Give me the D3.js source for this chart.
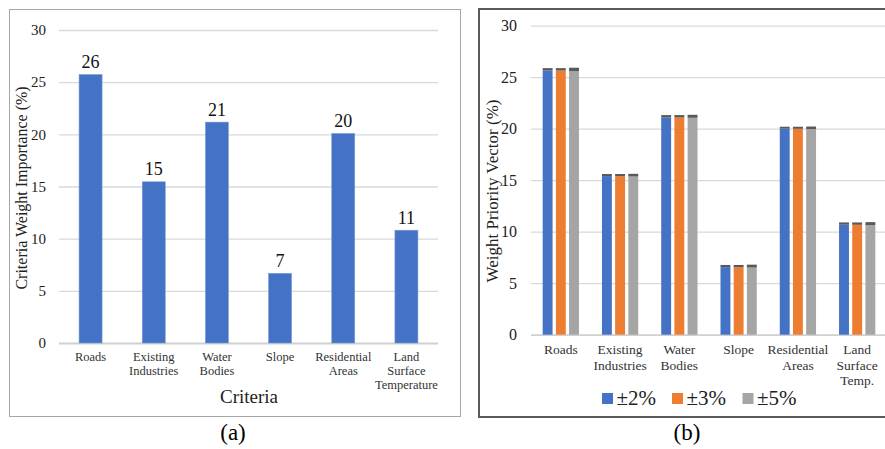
<!DOCTYPE html>
<html>
<head>
<meta charset="utf-8">
<script src="https://cdn.jsdelivr.net/npm/d3@7"></script>
<style>
  html, body { margin: 0; padding: 0; background: #fff; }
  svg text { font-family: "Liberation Serif", "Tinos", "Times New Roman", "DejaVu Serif", serif !important; }
</style>
</head>
<body>
<svg id="chart" width="885" height="449"></svg>
<script>
// Panel (a): criteria weights
const criteriaA = [["Roads"], ["Existing", "Industries"], ["Water", "Bodies"], ["Slope"], ["Residential", "Areas"], ["Land", "Surface", "Temperature"]];
const weightsA = [25.73, 15.45, 21.17, 6.68, 20.08, 10.81];

// Panel (b): sensitivity of priority vector
const criteriaB = [["Roads"], ["Existing", "Industries"], ["Water", "Bodies"], ["Slope"], ["Residential", "Areas"], ["Land", "Surface", "Temp."]];
const seriesNames = ["±2%", "±3%", "±5%"];
const seriesColors = ["#4472C4", "#ED7D31", "#A5A5A5"];
const low2 = [25.66, 15.40, 21.10, 6.56, 20.00, 10.68];
const high2 = [25.88, 15.60, 21.32, 6.77, 20.19, 10.90];
const low3 = [25.65, 15.39, 21.09, 6.55, 19.99, 10.67];
const high3 = [25.88, 15.60, 21.32, 6.77, 20.19, 10.90];
const low5 = [25.60, 15.36, 21.06, 6.52, 19.97, 10.64];
const high5 = [25.92, 15.62, 21.35, 6.80, 20.21, 10.93];
const yTicks = [0, 5, 10, 15, 20, 25, 30];

const svg = d3.select("#chart");

// ---------- Panel (a) ----------
svg.append("rect").attr("x", 9.5).attr("y", 9.5).attr("width", 451).attr("height", 407)
  .attr("fill", "none").attr("stroke", "#a6a6a6").attr("stroke-width", 1);

const xA = d3.scaleBand().domain(d3.range(weightsA.length)).range([59, 438])
  .paddingInner(0.636).paddingOuter(0.318);
const yA = d3.scaleLinear().domain([0, 30]).range([343, 30]);

const gA = svg.append("g");
const axA = gA.append("g").attr("transform", "translate(59,0)")
  .call(d3.axisLeft(yA).tickValues(yTicks).tickSize(-379).tickPadding(13));
axA.select(".domain").remove();
axA.selectAll(".tick line").attr("stroke", "#d9d9d9").attr("stroke-width", 1.3);
axA.selectAll(".tick text").attr("font-size", 15).attr("fill", "#222");
axA.selectAll(".tick").filter(d => d === 0).select("line").attr("stroke", "#d0d0d0").attr("stroke-width", 1.8);

gA.selectAll("rect.bar").data(weightsA).join("rect").attr("class", "bar")
  .attr("x", (d, i) => xA(i)).attr("width", xA.bandwidth())
  .attr("y", d => yA(d)).attr("height", d => yA(0) - yA(d))
  .attr("fill", "#4472C4").attr("stroke", "#7a9bd6").attr("stroke-width", 0.6);

const fmt0 = d3.format(".0f");
gA.selectAll("text.val").data(weightsA).join("text").attr("class", "val")
  .attr("x", (d, i) => xA(i) + xA.bandwidth() / 2).attr("y", d => yA(d) - 6.5)
  .attr("text-anchor", "middle").attr("font-size", 18).attr("fill", "#111")
  .text(d => fmt0(d));

gA.selectAll("text.cat").data(criteriaA).join("text").attr("class", "cat")
  .attr("x", (d, i) => xA(i) + xA.bandwidth() / 2).attr("y", 361)
  .attr("text-anchor", "middle").attr("font-size", 12.5).attr("fill", "#333")
  .each(function (lines) {
    d3.select(this).selectAll("tspan").data(lines).join("tspan")
      .attr("x", d3.select(this).attr("x")).attr("dy", (l, j) => j === 0 ? 0 : 13.8).text(l => l);
  });

gA.append("text").attr("x", 249).attr("y", 403).attr("text-anchor", "middle")
  .attr("font-size", 19).attr("fill", "#222").text("Criteria");
gA.append("text").attr("transform", "translate(27,188) rotate(-90)").attr("text-anchor", "middle")
  .attr("font-size", 16).attr("fill", "#222").text("Criteria Weight Importance (%)");
svg.append("text").attr("x", 233).attr("y", 440).attr("text-anchor", "middle")
  .attr("font-size", 23).attr("fill", "#000").text("(a)");

// ---------- Panel (b) ----------
svg.append("rect").attr("x", 479).attr("y", 9).attr("width", 420).attr("height", 408)
  .attr("fill", "none").attr("stroke", "#5a5a5a").attr("stroke-width", 2);

const xB = d3.scaleBand().domain(d3.range(criteriaB.length)).range([531, 887])
  .paddingInner(0.388).paddingOuter(0.197);
const xS = d3.scaleBand().domain(d3.range(seriesNames.length)).range([0, xB.bandwidth()])
  .paddingInner(0.25);
const yB = d3.scaleLinear().domain([0, 30]).range([334.7, 25.7]);

const gB = svg.append("g");
const axB = gB.append("g").attr("transform", "translate(531,0)")
  .call(d3.axisLeft(yB).tickValues(yTicks).tickSize(-360).tickPadding(14));
axB.select(".domain").remove();
axB.selectAll(".tick line").attr("stroke", "#d9d9d9").attr("stroke-width", 1.3);
axB.selectAll(".tick text").attr("font-size", 16).attr("fill", "#222");
axB.selectAll(".tick").filter(d => d === 0).select("line").attr("stroke", "#d0d0d0").attr("stroke-width", 1.8);

const lows = [low2, low3, low5];
const highs = [high2, high3, high5];
const cells = [];
criteriaB.forEach((c, i) => seriesNames.forEach((s, k) => cells.push({ i, k, lo: lows[k][i], hi: highs[k][i] })));

gB.selectAll("rect.bar").data(cells).join("rect").attr("class", "bar")
  .attr("x", d => xB(d.i) + xS(d.k)).attr("width", xS.bandwidth())
  .attr("y", d => yB(d.lo)).attr("height", d => yB(0) - yB(d.lo))
  .attr("fill", d => seriesColors[d.k]);

// darker caps spanning the sensitivity range
gB.selectAll("rect.cap").data(cells).join("rect").attr("class", "cap")
  .attr("x", d => xB(d.i) + xS(d.k)).attr("width", xS.bandwidth())
  .attr("y", d => yB(d.hi)).attr("height", d => yB(d.lo) - yB(d.hi))
  .attr("fill", "#595959");

gB.selectAll("text.cat").data(criteriaB).join("text").attr("class", "cat")
  .attr("x", (d, i) => xB(i) + xB.bandwidth() / 2).attr("y", 354)
  .attr("text-anchor", "middle").attr("font-size", 13.5).attr("fill", "#333")
  .each(function (lines) {
    d3.select(this).selectAll("tspan").data(lines).join("tspan")
      .attr("x", d3.select(this).attr("x")).attr("dy", (l, j) => j === 0 ? 0 : 15.5).text(l => l);
  });

gB.append("text").attr("transform", "translate(498,191) rotate(-90)").attr("text-anchor", "middle")
  .attr("font-size", 17).attr("fill", "#222").text("Weight Priority Vector (%)");

// legend
const legendX = d3.scaleOrdinal().domain(seriesNames).range([602, 672, 742.5]);
const leg = gB.selectAll("g.leg").data(seriesNames).join("g").attr("class", "leg")
  .attr("transform", d => `translate(${legendX(d)},393)`);
leg.append("rect").attr("width", 11).attr("height", 11).attr("fill", (d, k) => seriesColors[k]);
leg.append("text").attr("x", 14.5).attr("y", 12).attr("font-size", 21).attr("fill", "#222").text(d => d);

svg.append("text").attr("x", 687).attr("y", 440).attr("text-anchor", "middle")
  .attr("font-size", 23).attr("fill", "#000").text("(b)");
</script>
</body>
</html>
